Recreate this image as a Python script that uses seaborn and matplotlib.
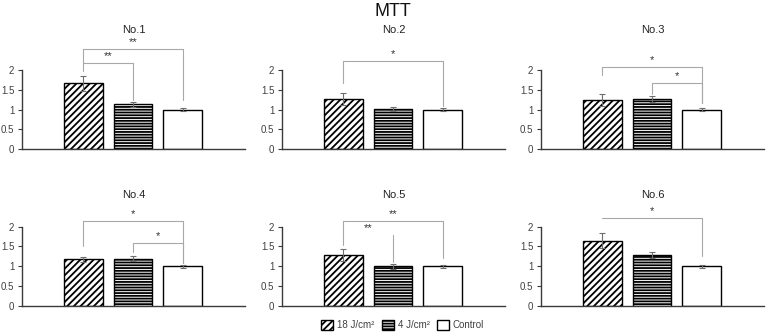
import matplotlib
matplotlib.use("Agg")
import matplotlib.pyplot as plt
from matplotlib.patches import Patch
import seaborn as sns
import pandas as pd

# ---- data ----
groups = ["18 J/cm²", "4 J/cm²", "Control"]
panels = ["No.1", "No.2", "No.3", "No.4", "No.5", "No.6"]
means_18 = [1.66, 1.26, 1.24, 1.17, 1.28, 1.65]
means_4 = [1.13, 1.01, 1.27, 1.19, 1.00, 1.28]
means_ctrl = [1.00, 1.00, 1.00, 1.00, 1.00, 1.00]
err_18 = [0.20, 0.15, 0.14, 0.06, 0.15, 0.20]
err_4 = [0.07, 0.05, 0.07, 0.07, 0.06, 0.07]
err_ctrl = [0.03, 0.03, 0.03, 0.04, 0.04, 0.04]
yticks = [0, 0.5, 1, 1.5, 2]
ytick_labels = ["0", "0.5", "1", "1.5", "2"]

# significance brackets:
# (panel, i, j, level, left leg end, right leg end, draw horizontal, label)
brackets = [
    (0, 0, 2, 2.52, 2.18, 1.24, True, "**"),
    (0, 0, 1, 2.17, 1.97, 1.23, True, "**"),
    (1, 0, 2, 2.23, 1.67, 1.09, True, "*"),
    (2, 0, 2, 2.08, 1.87, 1.16, True, "*"),
    (2, 1, 2, 1.66, 1.40, 1.16, True, "*"),
    (3, 0, 2, 2.14, 1.50, 1.07, True, "*"),
    (3, 1, 2, 1.58, 1.37, 1.07, True, "*"),
    (4, 0, 2, 2.14, 1.54, 1.22, True, "**"),
    (4, 0, 1, 1.79, None, 1.11, False, "**"),
    (5, 0, 2, 2.21, None, 1.26, True, "*"),
]

rows = []
for p, name in enumerate(panels):
    for g, m in zip(groups, [means_18[p], means_4[p], means_ctrl[p]]):
        rows.append({"panel": name, "group": g, "value": m})
df = pd.DataFrame(rows)

sns.set_style("white")
plt.rcParams["font.family"] = ["Liberation Sans", "DejaVu Sans"]
plt.rcParams["hatch.linewidth"] = 1.3

fig = plt.figure(figsize=(7.67, 3.33), dpi=100)
W, H = 767.0, 333.0
lefts = [22, 282, 541]
top_rows = [(70, 149), (226.7, 305.7)]
title_y = [30, 195]
axw = 223
hatches = ["/////", "------", ""]
spine_c = "#3a3a3a"
txt_c = "#404040"

axes = []
for p, name in enumerate(panels):
    r, c = divmod(p, 3)
    t, b = top_rows[r]
    ax = fig.add_axes([lefts[c] / W, 1 - b / H, axw / W, (b - t) / H])
    sub = df[df["panel"] == name]
    sns.barplot(data=sub, x="group", y="value", order=groups, color="white",
                edgecolor="black", linewidth=1.0, width=0.78, errorbar=None,
                saturation=1, ax=ax)
    for patch, h in zip(ax.patches, hatches):
        patch.set_facecolor("white")
        patch.set_hatch(h)
    ax.errorbar([0, 1, 2], [means_18[p], means_4[p], means_ctrl[p]],
                yerr=[err_18[p], err_4[p], err_ctrl[p]], fmt="none",
                ecolor="#6e6e6e", elinewidth=0.8, capsize=2, capthick=0.8, zorder=5)
    ax.set_xlim(-1.23, 3.25)
    ax.set_ylim(0, 2)
    ax.set_yticks(yticks)
    ax.set_yticklabels(ytick_labels)
    ax.set_xticks([])
    ax.set_xlabel("")
    ax.set_ylabel("")
    for s in ["top", "right"]:
        ax.spines[s].set_visible(False)
    for s in ["left", "bottom"]:
        ax.spines[s].set_color(spine_c)
        ax.spines[s].set_linewidth(1.0)
    ax.tick_params(axis="y", which="both", left=True, length=3, width=0.8,
                   color=spine_c, labelsize=7, labelcolor=txt_c, pad=2.5)
    fig.text((lefts[c] + axw / 2) / W, 1 - title_y[r] / H, name, ha="center",
             va="center", fontsize=8, color="#222222")
    axes.append(ax)

lc = "#a8a8a8"
for (p, i, j, lvl, ll, rl, draw_h, lab) in brackets:
    ax = axes[p]
    if draw_h:
        ax.plot([i, j], [lvl, lvl], color=lc, lw=0.8, clip_on=False, zorder=6)
    if ll is not None:
        ax.plot([i, i], [lvl, ll], color=lc, lw=0.8, clip_on=False, zorder=6)
    if rl is not None:
        ax.plot([j, j], [lvl, rl], color=lc, lw=0.8, clip_on=False, zorder=6)
    ax.text((i + j) / 2, lvl + 0.05, lab, ha="center", va="bottom",
            fontsize=8, color="#333333", clip_on=False)

fig.text(0.512, 1 - 11 / H, "MTT", ha="center", va="center", fontsize=13,
         color="#111111")

handles = [Patch(facecolor="white", edgecolor="black", hatch=h, linewidth=1.0)
           for h in hatches]
fig.legend(handles, groups, loc="center", bbox_to_anchor=(0.525, 1 - 325 / H),
           ncol=3, frameon=False, fontsize=7, handlelength=1.2, handleheight=1.2,
           handletextpad=0.4, columnspacing=0.8, labelcolor=txt_c)

fig.savefig("out.png", dpi=100)
